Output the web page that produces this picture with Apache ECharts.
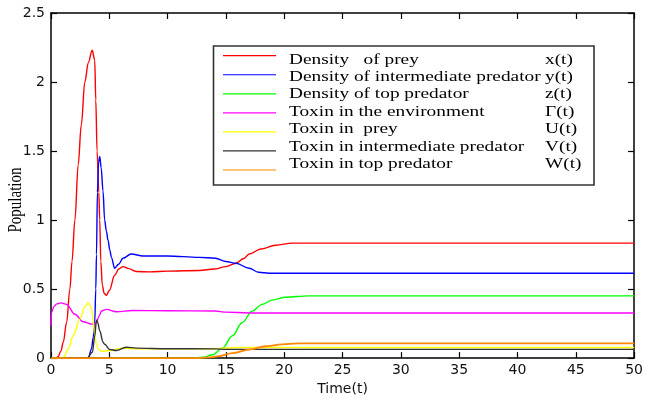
<!DOCTYPE html>
<html>
<head>
<meta charset="utf-8">
<script src="https://cdn.jsdelivr.net/npm/echarts@6/dist/echarts.min.js"></script>
<style>
  html, body { margin: 0; padding: 0; background: #fff; }
  #chart { width: 646px; height: 401px; }
</style>
</head>
<body>
<div id="chart"></div>
<script>
// Food-chain model with toxin: state variables over time

// x(t) density of prey
const preyT = [0, 0.4, 0.6, 0.85, 1.05, 1.34, 1.62, 1.8, 2.05, 2.33, 2.6, 2.9, 3.2, 3.53, 3.75, 3.84, 3.95, 4.1, 4.18, 4.27, 4.4, 4.55, 4.75, 5.0, 5.46, 5.8, 6.17, 6.6, 7.3, 8.5, 10, 12.7, 14, 15, 15.85, 16.5, 17, 18, 19.25, 20.7, 50];
const preyV = [0, 0, 0.01, 0.05, 0.115, 0.26, 0.5, 0.7, 1.0, 1.4, 1.69, 2.0, 2.14, 2.23, 2.16, 1.87, 1.5, 1.2, 1.0, 0.7, 0.53, 0.47, 0.455, 0.49, 0.6, 0.645, 0.663, 0.65, 0.627, 0.625, 0.63, 0.635, 0.645, 0.663, 0.687, 0.72, 0.754, 0.79, 0.818, 0.833, 0.833];

// y(t) density of intermediate predator
const midT = [0, 3.2, 3.47, 3.62, 3.75, 3.84, 3.9, 3.98, 4.08, 4.18, 4.3, 4.46, 4.6, 4.75, 4.89, 5.05, 5.18, 5.46, 5.8, 6.17, 6.88, 7.9, 10, 12.7, 14.1, 15, 15.85, 17, 17.8, 18.7, 50];
const midV = [0, 0, 0.067, 0.15, 0.26, 0.5, 0.75, 1.2, 1.42, 1.46, 1.38, 1.21, 1.0, 0.92, 0.854, 0.78, 0.73, 0.651, 0.68, 0.723, 0.754, 0.74, 0.74, 0.73, 0.723, 0.70, 0.687, 0.651, 0.622, 0.615, 0.615];

// z(t) density of top predator
const topT = [0, 12.1, 13, 13.85, 14.7, 15.56, 16.4, 17.26, 18.1, 18.97, 20.1, 22.1, 50];
const topV = [0, 0, 0.006, 0.024, 0.072, 0.162, 0.258, 0.341, 0.389, 0.42, 0.441, 0.451, 0.451];

// Γ(t) toxin in the environment
const envT = [0, 0.05, 0.25, 0.5, 0.85, 1.34, 2.05, 2.76, 3.47, 3.75, 3.9, 4.1, 4.33, 4.75, 5.6, 7.0, 10, 14.1, 15, 17, 50];
const envV = [0.234, 0.33, 0.375, 0.393, 0.40, 0.389, 0.318, 0.263, 0.246, 0.25, 0.258, 0.3, 0.341, 0.353, 0.336, 0.345, 0.343, 0.341, 0.333, 0.327, 0.327];

// U(t) toxin in prey
const toxPreyT = [0, 1.05, 1.5, 1.9, 2.47, 2.9, 3.19, 3.47, 3.62, 3.75, 3.9, 4.04, 4.33, 5.0, 6.17, 7.3, 10, 14, 15, 16, 50];
const toxPreyV = [0, 0, 0.07, 0.162, 0.282, 0.37, 0.40, 0.365, 0.27, 0.162, 0.1, 0.067, 0.048, 0.055, 0.072, 0.067, 0.068, 0.068, 0.073, 0.077, 0.077];

// V(t) toxin in intermediate predator
const toxMidT = [0, 3.1, 3.55, 3.75, 3.9, 4.0, 4.18, 4.46, 4.6, 5.03, 5.6, 6.45, 7.3, 10, 14, 15, 50];
const toxMidV = [0, 0, 0.043, 0.16, 0.277, 0.26, 0.198, 0.115, 0.1, 0.062, 0.055, 0.079, 0.072, 0.068, 0.067, 0.063, 0.063];

// W(t) toxin in top predator
const toxTopT = [0, 12.7, 13.8, 14.4, 15.56, 17, 18.4, 19.8, 21.2, 50];
const toxTopV = [0, 0, 0.007, 0.014, 0.036, 0.062, 0.086, 0.1, 0.107, 0.107];

const seriesNames = ['Density   of prey', 'Density of intermediate predator', 'Density of top predator', 'Toxin in the environment', 'Toxin in  prey', 'Toxin in intermediate predator', 'Toxin in top predator'];
const seriesSymbols = ['x(t)', 'y(t)', 'z(t)', 'Γ(t)', 'U(t)', 'V(t)', 'W(t)'];
const seriesColors = ['#ff0000', '#0000ff', '#00ff00', '#ff00ff', '#ffff00', '#333333', '#ff8800'];
const seriesTimes = [preyT, midT, topT, envT, toxPreyT, toxMidT, toxTopT];
const seriesValues = [preyV, midV, topV, envV, toxPreyV, toxMidV, toxTopV];

const xTicks = { min: 0, max: 50, interval: 5 };
const yTicks = { min: 0, max: 2.5, interval: 0.5 };

const pair = (ts, vs) => ts.map((t, i) => [t, vs[i]]);

const series = seriesNames.map((name, i) => ({
  name: name,
  type: 'line',
  data: pair(seriesTimes[i], seriesValues[i]),
  showSymbol: false,
  smooth: 0.35,
  smoothMonotone: 'x',
  lineStyle: { color: seriesColors[i], width: i === 6 ? 1.8 : 1.4 },
  itemStyle: { color: seriesColors[i] },
  emphasis: { disabled: true },
  silent: true
}));

const axisLine = { show: true, onZero: false, lineStyle: { color: '#000', width: 1.5 } };
const axisTick = { show: true, inside: true, length: 6, lineStyle: { color: '#000', width: 1.2 } };
const labelFont = { fontFamily: 'DejaVu Sans', fontSize: 14, color: '#111' };

// Legend panel
const legendBox = { x: 213.5, y: 46, w: 380.5, h: 139 };
const serifFont = '14px "Liberation Serif"';
const stretch = 1.38;
const graphics = [
  {
    type: 'rect',
    shape: { x: legendBox.x, y: legendBox.y, width: legendBox.w, height: legendBox.h },
    style: { fill: '#fff', stroke: '#333', lineWidth: 1.6 },
    z: 10
  }
];
seriesNames.forEach((name, i) => {
  const lineY = 55.7 + i * 19.05;
  const textY = 60 + i * 17.4;
  graphics.push({
    type: 'line',
    shape: { x1: 223, y1: lineY, x2: 276, y2: lineY },
    style: { stroke: seriesColors[i], lineWidth: 1.2 },
    z: 11
  });
  graphics.push({
    type: 'text',
    x: 289, y: textY, scaleX: stretch,
    style: { text: name, font: serifFont, fill: '#000', textAlign: 'left', textVerticalAlign: 'middle' },
    z: 11
  });
  graphics.push({
    type: 'text',
    x: 545, y: textY, scaleX: stretch,
    style: { text: seriesSymbols[i], font: serifFont, fill: '#000', textAlign: 'left', textVerticalAlign: 'middle' },
    z: 11
  });
});
// vertical axis title
graphics.push({
  type: 'text',
  x: 16, y: 200, rotation: Math.PI / 2, scaleY: 1.3,
  style: { text: 'Population', font: '15px "Liberation Serif"', fill: '#000', textAlign: 'center', textVerticalAlign: 'middle' },
  z: 11
});

const chart = echarts.init(document.getElementById('chart'), null, { renderer: 'canvas' });
chart.setOption({
  animation: false,
  backgroundColor: '#fff',
  grid: { left: 51, right: 9, top: 13, bottom: 38, containLabel: false },
  xAxis: [
    {
      type: 'value', position: 'bottom', min: xTicks.min, max: xTicks.max, interval: xTicks.interval,
      axisLine: axisLine, axisTick: axisTick,
      axisLabel: Object.assign({ margin: 5 }, labelFont),
      splitLine: { show: false },
      name: 'Time(t)', nameLocation: 'middle', nameGap: 22,
      nameTextStyle: { fontFamily: 'DejaVu Sans', fontSize: 14, color: '#111' }
    },
    {
      type: 'value', position: 'top', min: xTicks.min, max: xTicks.max, interval: xTicks.interval,
      axisLine: axisLine, axisTick: axisTick, axisLabel: { show: false }, splitLine: { show: false }
    }
  ],
  yAxis: [
    {
      type: 'value', position: 'left', min: yTicks.min, max: yTicks.max, interval: yTicks.interval,
      axisLine: axisLine, axisTick: axisTick,
      axisLabel: Object.assign({ margin: 6 }, labelFont),
      splitLine: { show: false }
    },
    {
      type: 'value', position: 'right', min: yTicks.min, max: yTicks.max, interval: yTicks.interval,
      axisLine: axisLine, axisTick: axisTick, axisLabel: { show: false }, splitLine: { show: false }
    }
  ],
  series: series,
  graphic: graphics
});
</script>
</body>
</html>
